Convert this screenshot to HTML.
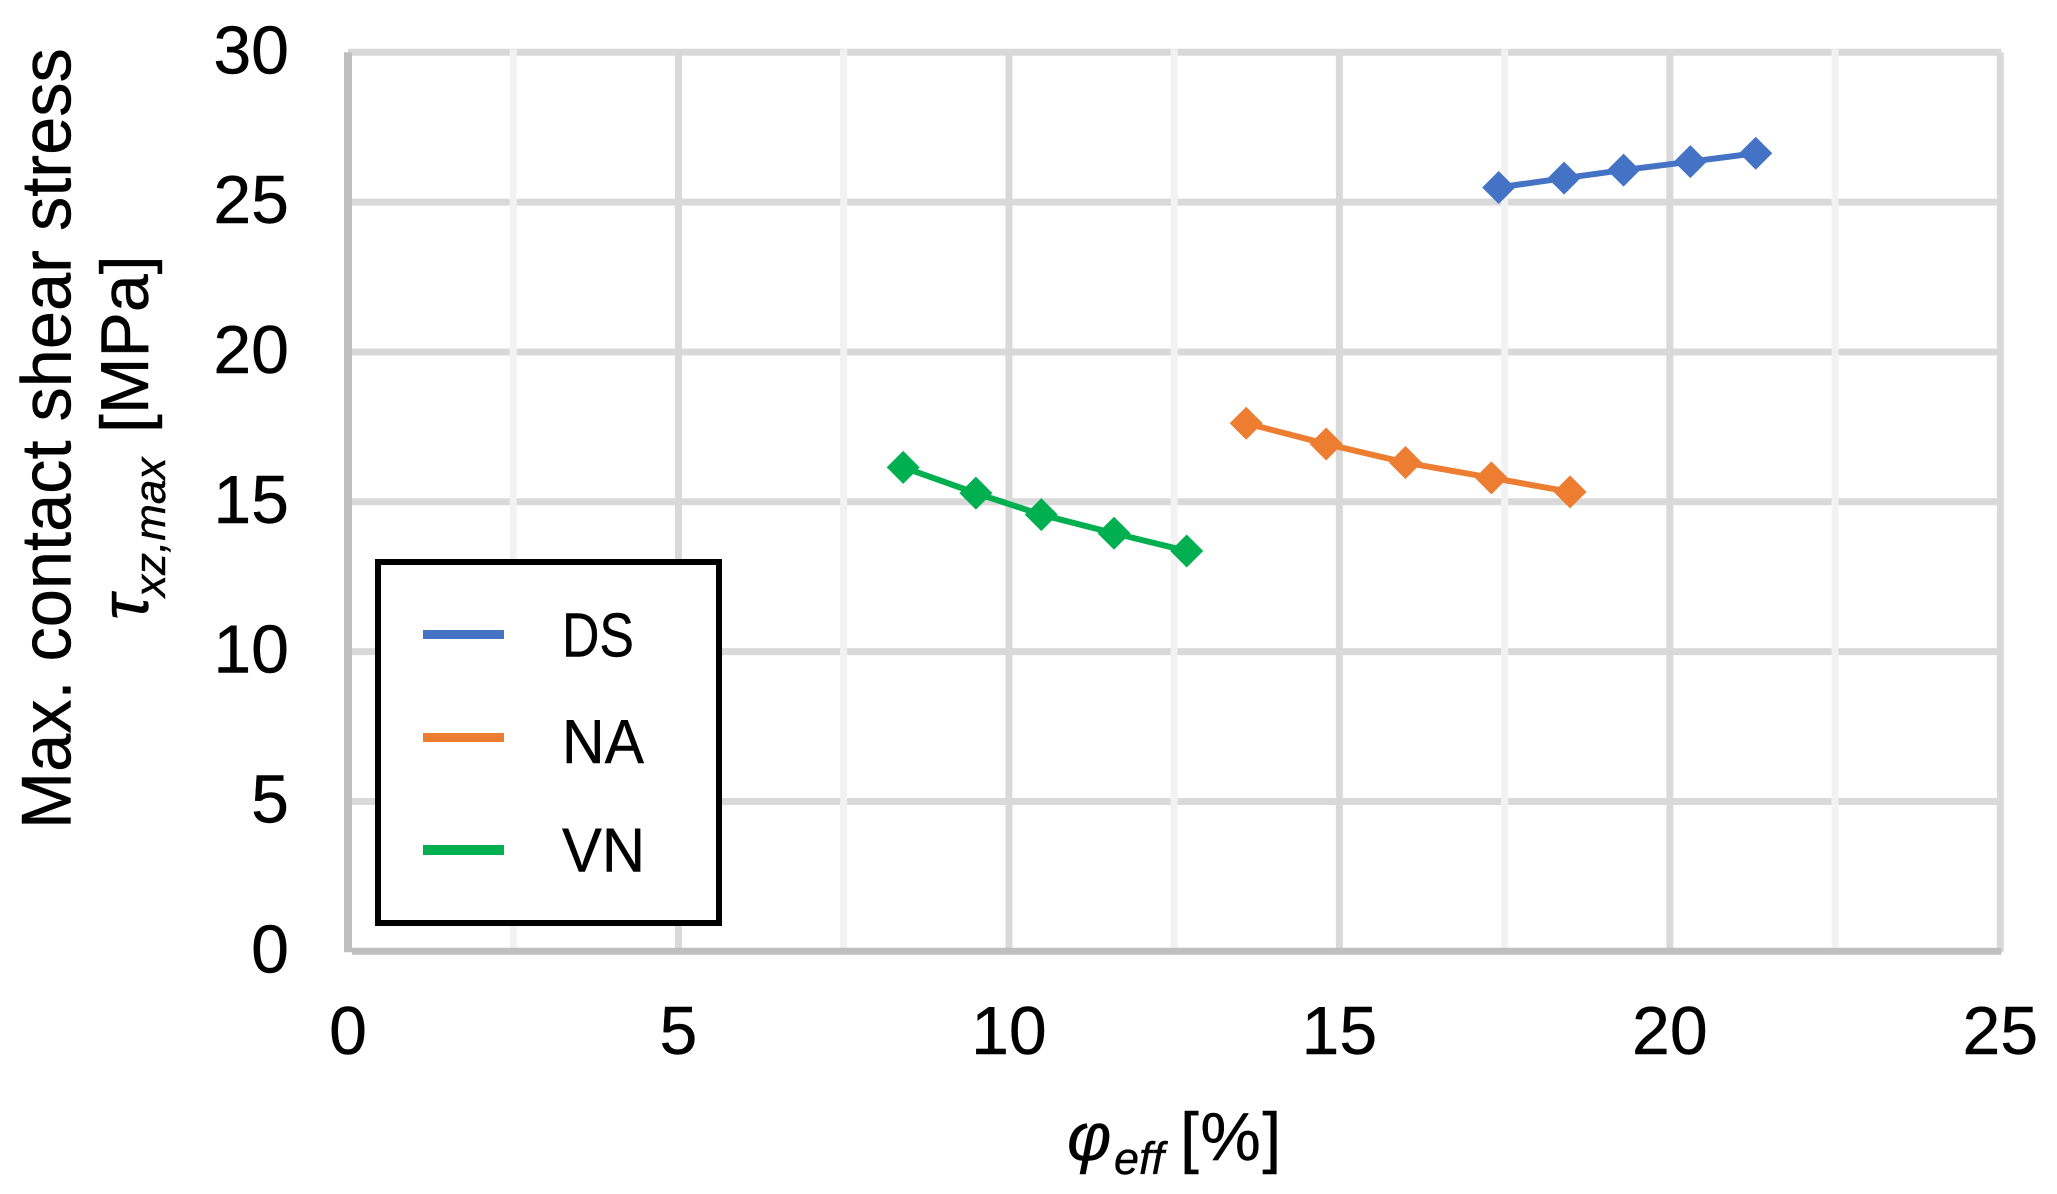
<!DOCTYPE html>
<html lang="en">
<head>
<meta charset="utf-8">
<title>Max. contact shear stress vs effective porosity</title>
<style>
  html, body { margin: 0; padding: 0; background: #ffffff; }
  body { width: 2057px; height: 1194px; overflow: hidden; }
  svg { display: block; }
  text { font-family: "Liberation Sans", "DejaVu Sans", sans-serif; fill: #000000; stroke: #000000; stroke-width: 0.4px; }
</style>
</head>
<body>
<svg id="chart" xmlns="http://www.w3.org/2000/svg" width="2057" height="1194" viewBox="0 0 2057 1194">
  <rect x="0" y="0" width="2057" height="1194" fill="#ffffff"/>
  <g id="grid"></g>
  <g id="axes"></g>
  <g id="ticks"></g>
  <g id="series"></g>

  <text transform="translate(70.5,829) rotate(-90) scale(1.008,1.04)" font-size="68">Max. contact shear stress</text>
  <text transform="translate(148,620) rotate(-90)" font-size="68"><tspan font-style="italic">τ</tspan><tspan font-style="italic" font-size="44" x="23" dy="17">xz,max</tspan><tspan x="187" dy="-17">[MPa]</tspan></text>
  <text transform="translate(1067,1160)" font-size="68"><tspan font-style="italic">φ</tspan><tspan font-style="italic" font-size="45" x="47" dy="14">eff</tspan><tspan x="113" dy="-14" letter-spacing="1.5">[%]</tspan></text>

  <g>
    <rect x="378" y="562" width="341" height="361" fill="#ffffff" stroke="#000000" stroke-width="6"/>
    <g>
      <rect x="423" y="630" width="81" height="9" fill="#4472C4"/>
      <text x="562" y="656.5" font-size="62" textLength="72" lengthAdjust="spacingAndGlyphs">DS</text>
    </g>
    <g>
      <rect x="423" y="733" width="81" height="9" fill="#ED7D31"/>
      <text x="562" y="763" font-size="62" textLength="82" lengthAdjust="spacingAndGlyphs">NA</text>
    </g>
    <g>
      <rect x="423" y="845" width="81" height="10" fill="#00B050"/>
      <text x="562" y="871.5" font-size="62" textLength="83" lengthAdjust="spacingAndGlyphs">VN</text>
    </g>
  </g>
</svg>
<script>
var xMajorTicks = [0, 5, 10, 15, 20, 25];
var xMinorTicks = [2.5, 7.5, 12.5, 17.5, 22.5];
var yMajorTicks = [0, 5, 10, 15, 20, 25, 30];
var xTickLabels = ['0', '5', '10', '15', '20', '25'];
var yTickLabels = ['0', '5', '10', '15', '20', '25', '30'];

var dsX = [17.41, 18.40, 19.30, 20.31, 21.30];
var dsY = [25.49, 25.80, 26.07, 26.35, 26.63];
var naX = [13.59, 14.80, 16.00, 17.30, 18.49];
var naY = [17.62, 16.93, 16.31, 15.80, 15.33];
var vnX = [8.40, 9.50, 10.49, 11.59, 12.69];
var vnY = [16.15, 15.29, 14.57, 13.95, 13.36];

var SVG_NS = 'http://www.w3.org/2000/svg';
var plotLeft = 348, plotRight = 2000.3, plotTop = 52.3, plotBottom = 951.3;
var xMax = 25, yMax = 30;

function xScale(v) { return plotLeft + (v / xMax) * (plotRight - plotLeft); }
function yScale(v) { return plotBottom - (v / yMax) * (plotBottom - plotTop); }

function makeLine(parent, name, x1, y1, x2, y2, color, width) {
  var el = document.createElementNS(SVG_NS, 'line');
  
  
  el.setAttribute('x1', x1);
  el.setAttribute('y1', y1);
  el.setAttribute('x2', x2);
  el.setAttribute('y2', y2);
  el.setAttribute('stroke', color);
  el.setAttribute('stroke-width', width);
  parent.appendChild(el);
  return el;
}

function makeText(parent, name, x, y, anchor, content) {
  var el = document.createElementNS(SVG_NS, 'text');
  
  
  el.setAttribute('x', x);
  el.setAttribute('y', y);
  el.setAttribute('text-anchor', anchor);
  el.setAttribute('font-size', '68');
  el.textContent = content;
  parent.appendChild(el);
}

var grid = document.getElementById('grid');
var axes = document.getElementById('axes');
var ticks = document.getElementById('ticks');
var seriesLayer = document.getElementById('series');

yMajorTicks.forEach(function (v) {
  if (v === 0) return;
  makeLine(grid, 'y-gridline-' + v, plotLeft, yScale(v), plotRight + 1, yScale(v), '#D9D9D9', 7);
});
xMinorTicks.forEach(function (v) {
  makeLine(grid, 'x-minor-gridline-' + v, xScale(v), plotTop - 3, xScale(v), plotBottom, '#F2F2F2', 7);
});
xMajorTicks.forEach(function (v) {
  if (v === 0) return;
  makeLine(grid, 'x-gridline-' + v, xScale(v), plotTop, xScale(v), plotBottom + 1, '#D9D9D9', 7);
});

makeLine(axes, 'y-axis-line', plotLeft, plotTop, plotLeft, plotBottom + 1, '#BFBFBF', 8);
makeLine(axes, 'x-axis-line', plotLeft + 4, plotBottom, plotRight + 1, plotBottom, '#BFBFBF', 7);

yMajorTicks.forEach(function (v, i) {
  makeText(ticks, 'y-tick-label-' + v, 289, yScale(v) + 21, 'end', yTickLabels[i]);
});
xMajorTicks.forEach(function (v, i) {
  makeText(ticks, 'x-tick-label-' + v, xScale(v), 1054, 'middle', xTickLabels[i]);
});

function drawSeries(key, color, xs, ys) {
  var g = document.createElementNS(SVG_NS, 'g');
  
  
  var pts = xs.map(function (x, i) { return xScale(x) + ',' + yScale(ys[i]); }).join(' ');
  var line = document.createElementNS(SVG_NS, 'polyline');
  
  
  line.setAttribute('points', pts);
  line.setAttribute('fill', 'none');
  line.setAttribute('stroke', color);
  line.setAttribute('stroke-width', '6');
  g.appendChild(line);
  xs.forEach(function (x, i) {
    var cx = xScale(x), cy = yScale(ys[i]), r = 16.5;
    var marker = document.createElementNS(SVG_NS, 'polygon');
    
    
    marker.setAttribute('points', cx + ',' + (cy - r) + ' ' + (cx + r) + ',' + cy + ' ' + cx + ',' + (cy + r) + ' ' + (cx - r) + ',' + cy);
    marker.setAttribute('fill', color);
    g.appendChild(marker);
  });
  seriesLayer.appendChild(g);
}

drawSeries('ds', '#4472C4', dsX, dsY);
drawSeries('na', '#ED7D31', naX, naY);
drawSeries('vn', '#00B050', vnX, vnY);
</script>
</body>
</html>
